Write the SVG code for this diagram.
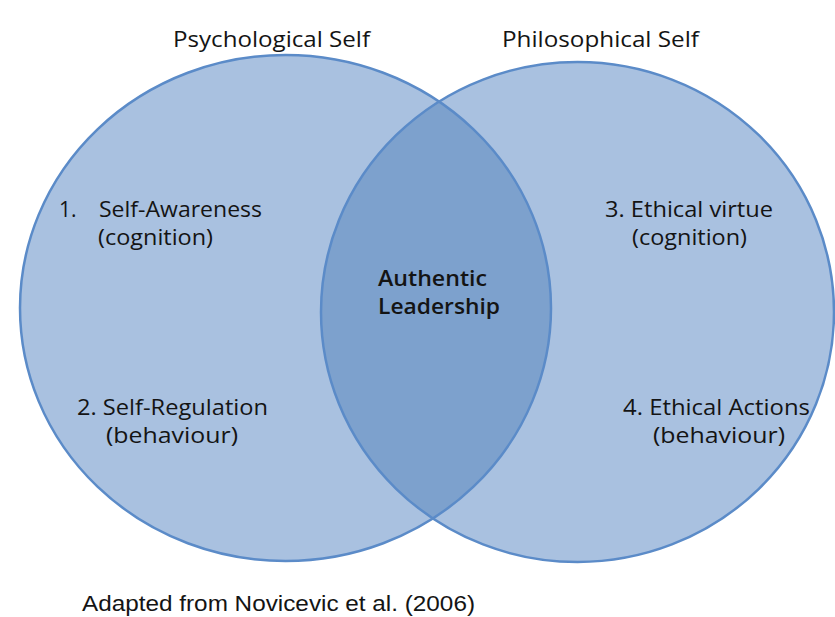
<svg xmlns="http://www.w3.org/2000/svg" width="835" height="617" viewBox="0 0 835 617">
  <style>
    .set { fill: #a9c1e0; }
    .lens { fill: #7da1cd; }
    .rim { fill: none; stroke: #5b8bc8; stroke-width: 2.5; }
    .lbl { font-family: "Open Sans", Lato, "Liberation Sans", sans-serif; font-size: 21px; fill: #141414; }
    .core { font-weight: 600; }
    .note { font-family: "Liberation Sans", Arial, sans-serif; font-size: 22px; fill: #141414; }
  </style>
  <defs>
    <clipPath id="clipLeft">
      <ellipse cx="285.5" cy="308" rx="265.5" ry="253"/>
    </clipPath>
  </defs>
  <rect width="835" height="617" fill="#ffffff"/>

  <!-- set fills -->
  <g id="psychological-self">
    <ellipse class="set" cx="285.5" cy="308" rx="265.5" ry="253"/>
  </g>
  <g id="philosophical-self">
    <ellipse class="set" cx="577.5" cy="312" rx="256.5" ry="250"/>
  </g>
  <!-- overlap region -->
  <g id="authentic-leadership">
    <ellipse class="lens" cx="577.5" cy="312" rx="256.5" ry="250" clip-path="url(#clipLeft)"/>
  </g>
  <!-- outlines -->
  <g id="outlines">
    <ellipse class="rim" cx="285.5" cy="308" rx="265.5" ry="253"/>
    <ellipse class="rim" cx="577.5" cy="312" rx="256.5" ry="250"/>
  </g>

  <!-- headings -->
  <text class="lbl" x="173" y="47" textLength="197" lengthAdjust="spacingAndGlyphs">Psychological Self</text>
  <text class="lbl" x="502" y="47" textLength="197" lengthAdjust="spacingAndGlyphs">Philosophical Self</text>

  <!-- left set items -->
  <text class="lbl" x="59" y="217">1.</text>
  <text class="lbl" x="99" y="217" textLength="163" lengthAdjust="spacingAndGlyphs">Self-Awareness</text>
  <text class="lbl" x="98" y="245" textLength="115" lengthAdjust="spacingAndGlyphs">(cognition)</text>
  <text class="lbl" x="77" y="415" textLength="191" lengthAdjust="spacingAndGlyphs">2. Self-Regulation</text>
  <text class="lbl" x="106" y="443" textLength="132" lengthAdjust="spacingAndGlyphs">(behaviour)</text>

  <!-- right set items -->
  <text class="lbl" x="605" y="217" textLength="168" lengthAdjust="spacingAndGlyphs">3. Ethical virtue</text>
  <text class="lbl" x="632" y="245" textLength="115" lengthAdjust="spacingAndGlyphs">(cognition)</text>
  <text class="lbl" x="623" y="415" textLength="187" lengthAdjust="spacingAndGlyphs">4. Ethical Actions</text>
  <text class="lbl" x="653" y="443" textLength="132" lengthAdjust="spacingAndGlyphs">(behaviour)</text>

  <!-- overlap label -->
  <text class="lbl core" x="378" y="286" textLength="109" lengthAdjust="spacingAndGlyphs">Authentic</text>
  <text class="lbl core" x="378" y="314" textLength="122" lengthAdjust="spacingAndGlyphs">Leadership</text>

  <!-- source note -->
  <text class="note" x="82" y="611" textLength="393" lengthAdjust="spacingAndGlyphs">Adapted from Novicevic et al. (2006)</text>
</svg>
